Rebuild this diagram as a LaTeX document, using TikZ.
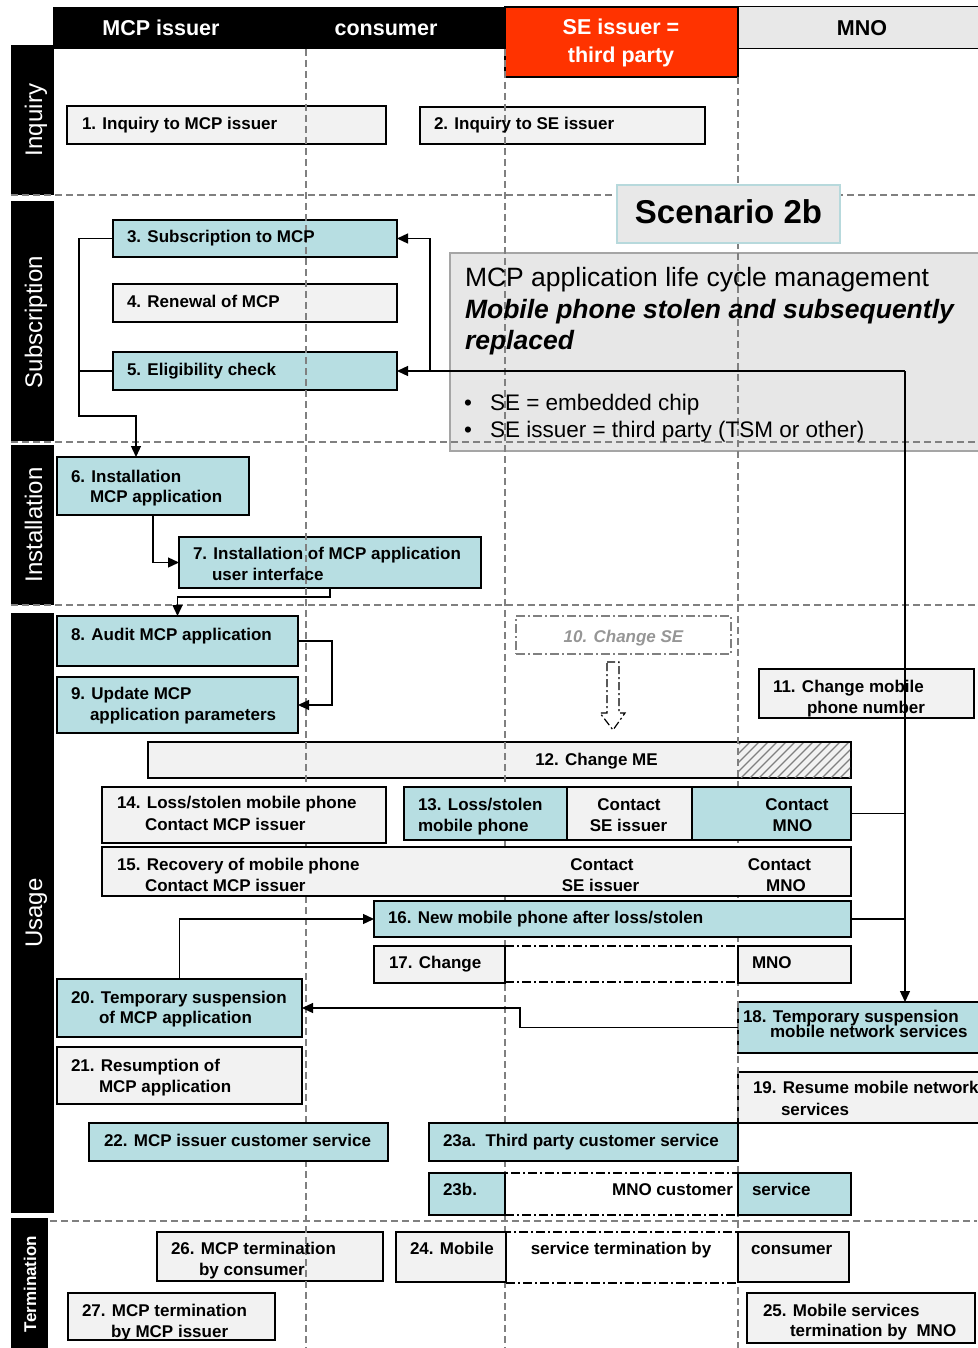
\documentclass[tikz,border=0pt]{standalone}
\usepackage{fontspec}
\setmainfont{Liberation Sans}
\usetikzlibrary{arrows.meta,fit}
\definecolor{boxteal}{RGB}{183,222,226}
\definecolor{boxgrey}{RGB}{242,242,242}
\definecolor{hdrgrey}{RGB}{232,232,232}
\definecolor{sered}{RGB}{255,51,0}
\definecolor{gridgrey}{RGB}{128,128,128}
\definecolor{descfill}{RGB}{231,231,231}
\definecolor{descline}{RGB}{165,165,165}
\definecolor{scenline}{RGB}{183,217,220}
\definecolor{faded}{RGB}{150,150,150}
\begin{document}
\begin{tikzpicture}[x=1pt,y=-1pt,
  every node/.style={inner sep=0pt,outer sep=0pt},
  boxline/.style={draw=black,line width=1.5pt,inner sep=0pt},
  gbox/.style={boxline,fill=boxgrey},
  tbox/.style={boxline,fill=boxteal},
  ddbox/.style={draw=black,line width=1.2pt,dash pattern=on 9pt off 3pt on 2pt off 3pt,fill=white,inner sep=0pt},
  lbl/.style={font=\bfseries\fontsize{17}{20}\selectfont,anchor=base west},
  clbl/.style={font=\bfseries\fontsize{17}{20}\selectfont,anchor=base},
  hdr/.style={font=\bfseries\fontsize{21.5}{24}\selectfont,anchor=base},
  stage/.style={font=\fontsize{24}{28}\selectfont,text=white,rotate=90,anchor=base},
  gridline/.style={draw=gridgrey,line width=1.5pt,dash pattern=on 7pt off 4pt},
  conn/.style={draw=black,line width=1.3pt},
  arr/.style={conn,-{Triangle[length=11pt,width=10pt]}},
]
\useasboundingbox (0,0) rectangle (977,1348);

% ---- column headers ----
\node[fill=black,fit={(53,7) (505,49)}] (hdrbar) {};
\node[fill=hdrgrey,draw=black,line width=1pt,fit={(738,7) (985,49)}] (mnohdr) {};
\node[fill=sered,draw=black,line width=1.2pt,fit={(505,7) (738,77)}] (sehdr) {};
\node[hdr,text=white] (hMCP) at (161,36) {MCP issuer};
\node[hdr,text=white] (hCons) at (386,36) {consumer};
\node[hdr,text=white] (hSE1) at (621,35) {SE issuer =};
\node[hdr,text=white] (hSE2) at (621,63) {third party};
\node[hdr] (hMNO) at (862,36) {MNO};

% ---- phase bars ----
\node[fill=black,fit={(11,45) (54,195)}] (barInq) {};
\node[fill=black,fit={(11,201) (54,441)}] (barSub) {};
\node[fill=black,fit={(11,445) (54,605)}] (barInst) {};
\node[fill=black,fit={(11,613) (54,1213)}] (barUse) {};
\node[fill=black,fit={(11,1218) (48,1348)}] (barTerm) {};
\node[stage] (sInq) at (42,120) {Inquiry};
\node[stage] (sSub) at (42,322) {Subscription};
\node[stage] (sInst) at (42,525) {Installation};
\node[stage] (sUse) at (42,913) {Usage};
\node[stage,font=\bfseries\fontsize{17}{20}\selectfont] (sTerm) at (36,1284) {Termination};

% ---- boxes lying behind the lane lines ----
\node[gbox,fit={(67,106) (386,144)}] (b1) {};
\node[gbox,fit={(420,107) (705,144)}] (b2) {};
\node[tbox,fit={(113,220) (397,257)}] (b3) {};
\node[gbox,fit={(113,284) (397,322)}] (b4) {};
\node[tbox,fit={(113,352) (397,390)}] (b5) {};
\node[fill=descfill,draw=descline,line width=2pt,fit={(450,253) (990,451)}] (desc) {};
\node[tbox,fit={(179,537) (481,588)}] (b7) {};
\node[fill=white,draw=gridgrey,line width=1.2pt,dash pattern=on 9pt off 3pt on 2pt off 3pt,fit={(516,616) (731,654)}] (b10) {};
\node[gbox,fit={(759,669) (974,718)}] (b11) {};
\node[gbox,fit={(148,742) (851,778)}] (b12) {};
\begin{scope}
  \clip (739,743) rectangle (850,777);
  \foreach \i in {696,705,...,860} \draw[gridgrey,line width=1.3pt] (\i,778) -- ++(36,-36);
\end{scope}
\node[tbox,fit={(738,1002) (990,1053)}] (b18) {};
\node[gbox,fit={(738,1072) (990,1123)}] (b19) {};
\node[tbox,fit={(57,979) (302,1037)}] (b20) {};
\node[gbox,fit={(57,1047) (302,1104)}] (b21) {};
\node[gbox,fit={(157,1232) (383,1281)}] (b26) {};
\node[gbox,fit={(68,1293) (275,1340)}] (b27) {};
\node[gbox,fit={(747,1293) (975,1343)}] (b25) {};

% ---- lane lines and phase separators ----
\draw[gridline] (306,49) -- (306,1348);
\draw[gridline] (505,49) -- (505,1348);
\draw[gridline] (738,77) -- (738,1348);
\draw[gridline] (11,195) -- (977,195);
\draw[gridline] (11,442) -- (977,442);
\draw[gridline] (11,605) -- (977,605);
\draw[gridline] (50,1221) -- (977,1221);

% ---- boxes lying in front of the lane lines ----
\node[fill=hdrgrey,draw=scenline,line width=1.2pt,fit={(617,185) (840,243)}] (scen) {};
\node[tbox,fit={(57,457) (249,515)}] (b6) {};
\node[tbox,fit={(57,616) (298,666)}] (b8) {};
\node[tbox,fit={(57,677) (298,733)}] (b9) {};
\node[gbox,fit={(102,787) (386,843)}] (b14) {};
\node[tbox,fit={(404,787) (567,840)}] (b13a) {};
\node[gbox,fit={(567,787) (692,840)}] (b13b) {};
\node[tbox,fit={(692,787) (851,840)}] (b13c) {};
\node[gbox,fit={(102,847) (851,896)}] (b15) {};
\node[tbox,fit={(374,901) (851,937)}] (b16) {};
\node[ddbox,fit={(505,946) (738,982)}] (b17d) {};
\node[gbox,fit={(374,946) (505,983)}] (b17) {};
\node[gbox,fit={(738,946) (851,983)}] (b17m) {};
\node[tbox,fit={(89,1123) (388,1161)}] (b22) {};
\node[tbox,fit={(429,1123) (738,1161)}] (b23a) {};
\node[ddbox,fit={(505,1173) (738,1215)}] (b23d) {};
\node[tbox,fit={(429,1173) (505,1215)}] (b23b) {};
\node[tbox,fit={(738,1173) (851,1215)}] (b23s) {};
\node[ddbox,fit={(506,1232) (738,1283)}] (b24d) {};
\node[gbox,fit={(396,1232) (506,1282)}] (b24) {};
\node[gbox,fit={(738,1232) (849,1282)}] (b24c) {};

% ---- hollow dash-dot arrow from 10 down to 12 ----
\draw[line width=1.2pt,dash pattern=on 8pt off 3pt on 2pt off 3pt]
  (607,662) -- (619,662) -- (619,713) -- (625,713) -- (613,730) -- (600,713) -- (607,713) -- cycle;

% ---- connectors ----
\coordinate (L1) at (79,416);
\coordinate (L2) at (136,416);
\draw[arr] (b3.west) -| (L1) -- (L2) -- (L2 |- b6.north);
\draw[conn] (b5.west) -- (b5.west -| L1);
\coordinate (R0) at (905,371);
\coordinate (Rb) at (430,371);
\draw[arr] (R0) -- (b5.east);
\draw[arr] (Rb) |- (b3.east);
\draw[arr] (R0) -- (R0 |- b18.north);
\draw[conn] (b13c.east) -- (b13c.east -| R0);
\draw[conn] (b16.east) -- (b16.east -| R0);
\coordinate (M1) at (520,1008);
\draw[arr] (b18.west) -| (M1) -- (b20.east);
\draw[arr] (b20.north) |- (b16.west);
\draw[arr] (b6.south) |- (b7.west);
\coordinate (I1) at (330,597);
\draw[arr] (b7.south) -- (I1) -| (b8.north);
\coordinate (U1) at (332,641);
\draw[arr] (b8.east) -- (U1) |- (b9.east);

% ---- scenario caption ----
\node[font=\bfseries\fontsize{33}{38}\selectfont,anchor=base] (scenT) at (728.5,224) {Scenario 2b};
\node[font=\fontsize{26.5}{30}\selectfont,anchor=base west] (d1) at (465,286) {MCP application life cycle management};
\node[font=\bfseries\itshape\fontsize{26.5}{30}\selectfont,anchor=base west] (d2) at (465,318) {Mobile phone stolen and subsequently};
\node[font=\bfseries\itshape\fontsize{26.5}{30}\selectfont,anchor=base west] (d3) at (465,349) {replaced};
\node[font=\fontsize{22.5}{26}\selectfont,anchor=base west] (d4b) at (464,410) {•};
\node[font=\fontsize{22.5}{26}\selectfont,anchor=base west] (d4) at (490,410) {SE = embedded chip};
\node[font=\fontsize{22.5}{26}\selectfont,anchor=base west] (d5b) at (464,437) {•};
\node[font=\fontsize{22.5}{26}\selectfont,anchor=base west] (d5) at (490,437) {SE issuer = third party (TSM or other)};

% ---- box labels ----
\node[lbl] (t1) at (82,130) {1. Inquiry to MCP issuer};
\node[lbl] (t2) at (434,130) {2. Inquiry to SE issuer};
\node[lbl] (t3) at (127,243) {3. Subscription to MCP};
\node[lbl] (t4) at (127,307) {4. Renewal of MCP};
\node[lbl] (t5) at (127,375) {5. Eligibility check};
\node[lbl] (t6a) at (71,482) {6. Installation};
\node[lbl] (t6b) at (90,502) {MCP application};
\node[lbl] (t7a) at (193,559) {7. Installation of MCP application};
\node[lbl] (t7b) at (212,580) {user interface};
\node[lbl] (t8) at (71,640) {8. Audit MCP application};
\node[lbl] (t9a) at (71,699) {9. Update MCP};
\node[lbl] (t9b) at (90,720) {application parameters};
\node[clbl,text=faded,font=\bfseries\itshape\fontsize{17}{20}\selectfont] (t10) at (623.5,642) {10. Change SE};
\node[lbl] (t11a) at (773,692) {11. Change mobile};
\node[lbl] (t11b) at (807,713) {phone number};
\node[clbl] (t12) at (596.5,765) {12. Change ME};
\node[lbl] (t13a) at (418,810) {13. Loss/stolen};
\node[lbl] (t13b) at (418,831) {mobile phone};
\node[clbl] (t13c) at (629,810) {Contact};
\node[clbl] (t13d) at (628.5,831) {SE issuer};
\node[clbl] (t13e) at (797,810) {Contact};
\node[clbl] (t13f) at (792.5,831) {MNO};
\node[lbl] (t14a) at (117,808) {14. Loss/stolen mobile phone};
\node[lbl] (t14b) at (145,830) {Contact MCP issuer};
\node[lbl] (t15a) at (117,870) {15. Recovery of mobile phone};
\node[lbl] (t15b) at (145,891) {Contact MCP issuer};
\node[clbl] (t15c) at (602,870) {Contact};
\node[clbl] (t15d) at (600.5,891) {SE issuer};
\node[clbl] (t15e) at (779.5,870) {Contact};
\node[clbl] (t15f) at (786,891) {MNO};
\node[lbl] (t16) at (388,923) {16. New mobile phone after loss/stolen};
\node[lbl] (t17) at (389,968) {17. Change};
\node[lbl] (t17m) at (752,968) {MNO};
\node[lbl] (t18a) at (743,1022) {18. Temporary suspension};
\node[lbl] (t18b) at (770,1037) {mobile network services};
\node[lbl] (t19a) at (753,1093) {19. Resume mobile network};
\node[lbl] (t19b) at (781,1115) {services};
\node[lbl] (t20a) at (71,1003) {20. Temporary suspension};
\node[lbl] (t20b) at (99,1023) {of MCP application};
\node[lbl] (t21a) at (71,1071) {21. Resumption of};
\node[lbl] (t21b) at (99,1092) {MCP application};
\node[lbl] (t22) at (104,1146) {22. MCP issuer customer service};
\node[lbl] (t23a) at (443,1146) {23a.\ \ Third party customer service};
\node[lbl] (t23b) at (443,1195) {23b.};
\node[lbl,anchor=base east] (t23c) at (733,1195) {MNO customer};
\node[lbl] (t23d) at (752,1195) {service};
\node[lbl] (t24a) at (410,1254) {24. Mobile};
\node[clbl] (t24b) at (621,1254) {service termination by};
\node[lbl] (t24c) at (751,1254) {consumer};
\node[lbl] (t25a) at (763,1316) {25. Mobile services};
\node[lbl] (t25b) at (790,1336) {termination by\ \ MNO};
\node[lbl] (t26a) at (171,1254) {26. MCP termination};
\node[lbl] (t26b) at (199,1275) {by consumer};
\node[lbl] (t27a) at (82,1316) {27. MCP termination};
\node[lbl] (t27b) at (111,1337) {by MCP issuer};
\end{tikzpicture}
\end{document}
